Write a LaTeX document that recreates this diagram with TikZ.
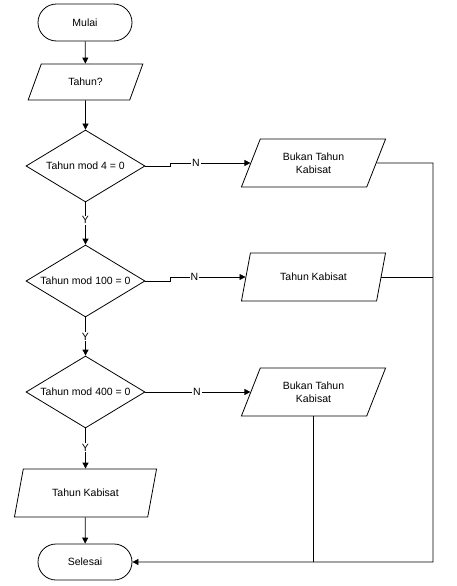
\documentclass[tikz,border=0pt]{standalone}
\usepackage{fontspec}
\setmainfont{Liberation Sans}
\usetikzlibrary{shapes.geometric,shapes.misc,arrows.meta}
\begin{document}
\begin{tikzpicture}[x=1pt,y=-1pt,line width=0.8pt,
  every node/.style={font=\fontsize{10.5}{12.7}\selectfont,align=center},
  term/.style={rounded rectangle,draw,minimum width=96,minimum height=37,inner sep=1pt},
  io/.style={trapezium,draw,trapezium stretches=true,trapezium left angle=63.4,trapezium right angle=116.6,minimum width=145,minimum height=48,inner sep=1pt},
  cond/.style={diamond,draw,aspect=1.65,minimum width=119,minimum height=72,inner sep=1pt},
  arr/.style={-{Triangle[length=6pt,width=6pt]}},
  lbl/.style={fill=white,inner sep=1pt}]
    \useasboundingbox (0,0) rectangle (456,586);
    \node (mulai) at (85,22.5) [term] {Mulai};
    \node (tahun) at (85.5,82) [io,minimum width=115,minimum height=36,trapezium left angle=60.9,trapezium right angle=119.1] {Tahun?};
    \node (m4) at (85.5,166) [cond] {Tahun mod 4 = 0};
    \node (m100) at (85.5,281) [cond] {Tahun mod 100 = 0};
    \node (m400) at (85.5,392) [cond] {Tahun mod 400 = 0};
    \node (kab) at (85.5,493) [io,minimum width=143] {Tahun Kabisat};
    \node (selesai) at (85,562) [term,minimum height=36] {Selesai};
    \node (bk4) at (313.5,163) [io] {Bukan Tahun\\Kabisat};
    \node (k100) at (313.5,277) [io] {Tahun Kabisat};
    \node (bk400) at (313.5,392) [io] {Bukan Tahun\\Kabisat};
    \coordinate (kanan) at (433,562);
%
    \draw [arr] (mulai) -- (tahun);
    \draw [arr] (tahun) -- (m4);
    \draw [arr] (m4) -- node[lbl,pos=0.42] {Y} (m100);
    \draw [arr] (m100) -- node[lbl,pos=0.5] {Y} (m400);
    \draw [arr] (m400) -- node[lbl,pos=0.48] {Y} (kab);
    \draw [arr] (kab) -- (selesai);
%
    \draw [arr] (m4.east) -- ++(25,0) |- node[lbl,pos=0.66] {N} (bk4);
    \draw [arr] (m100.east) -- ++(25,0) |- node[lbl,pos=0.66] {N} (k100);
    \draw [arr] (m400) -- node[lbl,pos=0.49] {N} (bk400);
%
    \draw [arr] (bk4.east) -| (kanan) -- (selesai);
    \draw (k100.east) -- (k100.east -| kanan);
    \draw (bk400.south) -- (bk400.south |- kanan);
\end{tikzpicture}
\end{document}
